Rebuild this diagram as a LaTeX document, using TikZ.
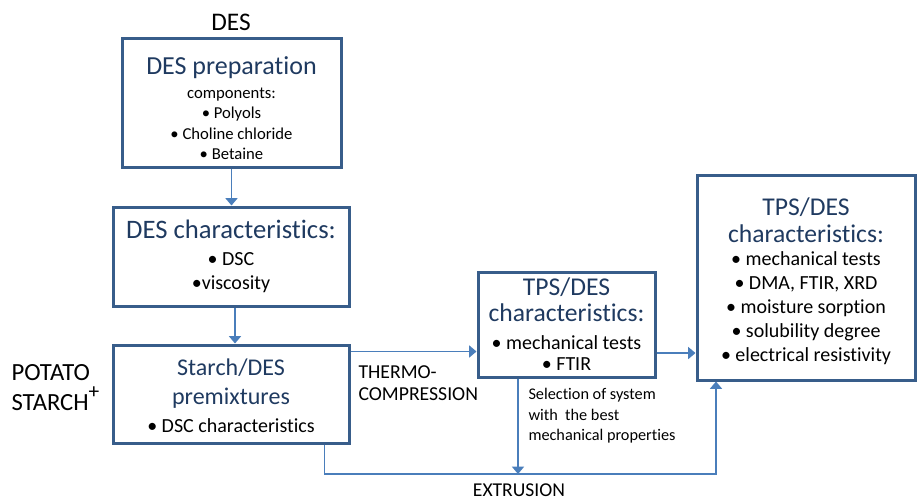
\documentclass[tikz,border=0pt]{standalone}
\usepackage{fontspec}
\setmainfont{Carlito}[Ligatures={NoCommon,NoContextual,NoRequired}]
\usetikzlibrary{arrows.meta}

\definecolor{boxline}{HTML}{385D8A}
\definecolor{flowline}{HTML}{4A7EBB}
\definecolor{headtext}{HTML}{1F3A60}

\newcommand{\hdprep}{\fontsize{19.5}{23}\selectfont\color{headtext}}
\newcommand{\hdbig}{\fontsize{20}{24}\selectfont\color{headtext}}
\newcommand{\hdmix}{\fontsize{18}{22}\selectfont\color{headtext}}
\newcommand{\hdtps}{\fontsize{19.2}{23}\selectfont\color{headtext}}

\tikzset{every picture/.style={line width=0.75pt}}

\begin{document}
\begin{tikzpicture}[x=0.75pt,y=0.75pt,yscale=-1,xscale=1,
  box/.style={draw=boxline, line width=2.25pt, inner sep=0pt, align=center},
  flow/.style={draw=flowline, line width=1.1pt, -{Triangle[width=9pt,length=5.5pt]}},
  plain/.style={inner sep=0.75pt}]
\useasboundingbox (0,0) rectangle (917,500);

%Shape: Rectangle
\node (prep) [box, minimum width=164.25pt, minimum height=96.75pt, font=\fontsize{12.5}{15.4}\selectfont] at (231.5,102.5)
  {\rule{0pt}{22pt}{\hdprep DES preparation}\\[2.6pt] components:\\ • Polyols\\ • Choline chloride\\ • Betaine};
%Shape: Rectangle
\node (deschar) [box, minimum width=177pt, minimum height=74.25pt, font=\fontsize{15}{18}\selectfont] at (231,256.5)
  {{\hdbig DES characteristics:}\\[2pt] • DSC\\ •viscosity};
%Shape: Rectangle
\node (premix) [box, minimum width=177pt, minimum height=73.5pt, font=\fontsize{15}{18}\selectfont] at (231,394)
  {\rule{0pt}{15pt}{\hdmix Starch/DES}\\[3.75pt] {\hdmix premixtures}\\[3pt] • DSC characteristics};
%Shape: Rectangle
\node (tpsmid) [box, minimum width=132.75pt, minimum height=78.75pt, font=\fontsize{15}{15.75}\selectfont] at (566.5,324.5)
  {{\hdtps TPS/DES}\\[3.75pt] {\hdtps characteristics:}\\[5.25pt] • mechanical tests\\ • FTIR};
%Shape: Rectangle
\node (tpsend) [box, minimum width=163.5pt, minimum height=153.75pt, font=\fontsize{15}{18}\selectfont] at (806,277.5)
  {\rule{0pt}{18.5pt}{\hdtps TPS/DES}\\[2.25pt] {\hdtps characteristics:}\\[-0.75pt] • mechanical tests\\ • DMA, FTIR, XRD\\ • moisture sorption\\ • solubility degree\\ • electrical resistivity};

% Text Node
\node (deslbl) [plain, font=\fontsize{19}{22}\selectfont] at (231,22) {DES};
% Text Node
\node (potato) [plain, anchor=west, align=left, font=\fontsize{18.5}{22.5}\selectfont] at (10,388) {POTATO\\ STARCH\raisebox{9pt}{\fontsize{16}{16}\selectfont +}};
% Text Node
\node (thermo) [plain, anchor=west, align=left, font=\fontsize{14.8}{16.5}\selectfont] at (357,383) {THERMO-\\ COMPRESSION};
% Text Node
\node (extr) [plain, font=\fontsize{14.7}{17}\selectfont] at (519,490) {EXTRUSION};
% Text Node
\node (select) [plain, anchor=north west, align=left, font=\fontsize{12.2}{15.4}\selectfont] at (527,387) {Selection of system\\ with \ the best\\ mechanical properties};

\coordinate (join) at (518,474);

%Straight Lines
\draw [flow] (prep.south) -- (prep.south |- deschar.north);
%Straight Lines
\draw [flow] ([xshift=3pt]deschar.south) -- ([xshift=3pt]premix.north);
%Straight Lines
\draw [flow] ([yshift=6pt]premix.north east) -- ([yshift=6pt]premix.north east -| tpsmid.west);
%Straight Lines
\draw [flow] ([yshift=21.4pt]tpsmid.east) -- ([yshift=21.4pt]tpsmid.east -| tpsend.west);
%Straight Lines
\draw [flow] (tpsmid.south -| join) -- (join);
%Straight Lines
\draw [flow] ([xshift=70pt]premix.south) |- (join) -| ([xshift=-67.5pt]tpsend.south);

\end{tikzpicture}
\end{document}
